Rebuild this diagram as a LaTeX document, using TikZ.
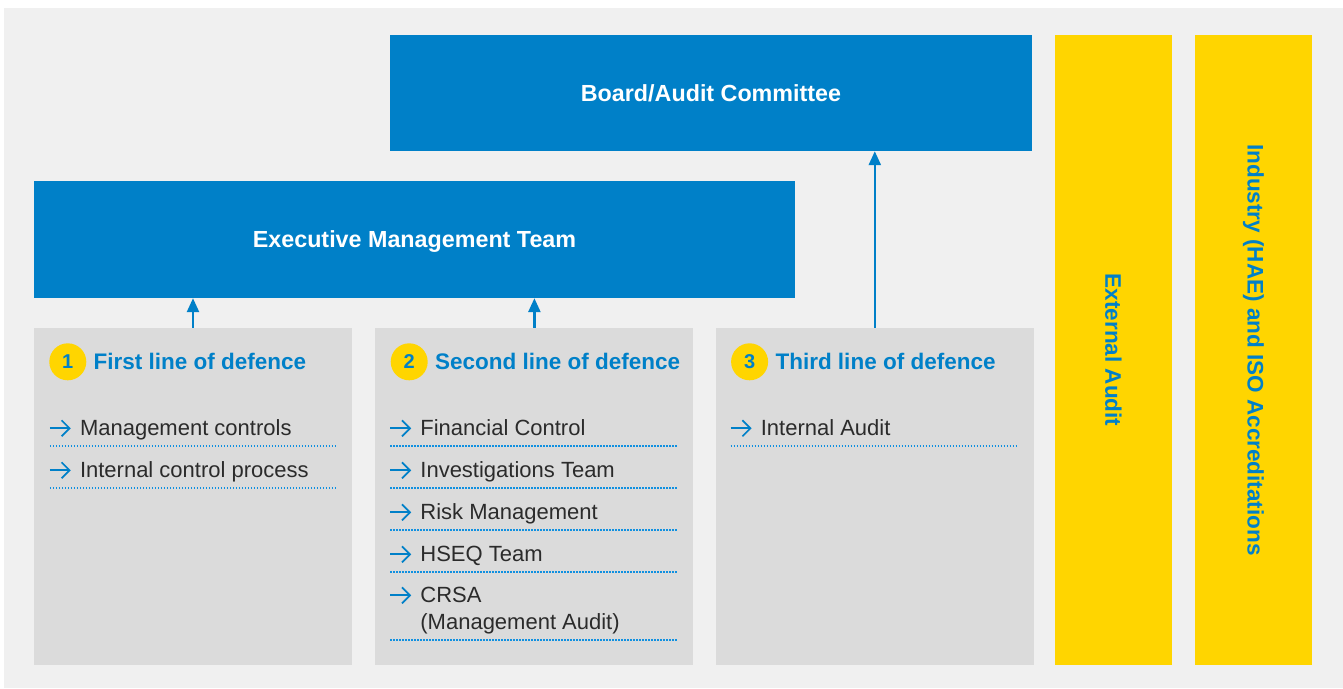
\documentclass[tikz,border=0pt]{standalone}
\usepackage{fontspec}
\setmainfont{Liberation Sans}
\usetikzlibrary{positioning,arrows.meta}
\definecolor{hblue}{HTML}{0080C8}
\definecolor{hyellow}{HTML}{FFD500}
\definecolor{hpanel}{HTML}{DBDBDB}
\definecolor{hback}{HTML}{F0F0F0}
\definecolor{htext}{HTML}{2B2B2B}
\definecolor{hdots}{HTML}{1090E0}
\newcommand{\headfont}{\fontsize{22.5}{27}\selectfont\bfseries}
\newcommand{\itemfont}{\fontsize{22}{26}\selectfont}
\newcommand{\tick}[1]{\draw[tickarrow] ([xshift=-30pt,yshift=7.5pt]#1.base west) -- ++(21pt,0);}
\newcommand{\dotline}[1]{\draw[sepline] ([xshift=-30pt,yshift=-10pt]#1.base west) -- ++(288pt,0);}
\tikzset{
  bluebox/.style={fill=hblue, text=white, inner sep=0pt, text height=16.7pt, text depth=0pt, font=\fontsize{23.3}{28}\selectfont\bfseries},
  panel/.style={fill=hpanel, minimum width=318pt, minimum height=337pt, inner sep=0pt},
  yellowbar/.style={fill=hyellow, text=hblue, font=\headfont, rotate=-90, minimum width=630pt, minimum height=117pt, inner sep=0pt},
  badge/.style={circle, fill=hyellow, minimum size=37pt, inner sep=0pt, text=hblue, font=\fontsize{20}{24}\selectfont\bfseries},
  title/.style={text=hblue, font=\headfont, inner sep=0pt, anchor=west},
  entry/.style={text=htext, font=\itemfont, inner sep=0pt, anchor=base west},
  uparrow/.style={draw=hblue, line width=2.5pt, -{Triangle[length=14pt,width=12pt]}},
  tickarrow/.style={draw=hblue, line width=1.7pt, -{Straight Barb[length=8pt,width=16pt]}},
  sepline/.style={draw=hdots, line width=1.5pt, dash pattern=on 1.5pt off 1.5pt}
}

\begin{document}
\begin{tikzpicture}[x=1pt,y=-1pt]
\useasboundingbox (0,0) rectangle (1343,688);
\fill[hback] (4,8) rectangle (1343,688);
\node[bluebox, minimum width=642pt, minimum height=116pt] (board) at (711,93) {Board/Audit Committee};
\node[bluebox, minimum width=761pt, minimum height=117pt] (exec) at (414.5,239.5) {Executive Management Team};
\node[panel] (p1) at (193,496.5) {};
\node[panel, right=23pt of p1] (p2) {};
\node[panel, right=22pt of p2] (p3) {};
\node[yellowbar] (extaudit) at (1113.5,350) {External Audit};
\node[yellowbar] (iso) at (1253.5,350) {Industry (HAE) and ISO Accreditations};
\draw[uparrow] (p1.north) -- (p1.north |- exec.south);
\draw[uparrow] (p2.north) -- (p2.north |- exec.south);
\draw[uparrow] (p3.north) -- (p3.north |- board.south);

\node[badge] (n1) at ([xshift=34pt,yshift=-34pt]p1.north west) {1};
\node[title, right=7pt of n1] (t1) {First line of defence};
\node[badge] (n2) at ([xshift=34pt,yshift=-34pt]p2.north west) {2};
\node[title, right=7pt of n2] (t2) {Second line of defence};
\node[badge] (n3) at ([xshift=34pt,yshift=-34pt]p3.north west) {3};
\node[title, right=7pt of n3] (t3) {Third line of defence};

\node[entry] (a1) at ([xshift=46pt,yshift=-108pt]p1.north west) {Management controls};
\node[entry] (a2) at ([yshift=-42pt]a1.base west) {Internal control process};
\tick{a1} \tick{a2}
\dotline{a1} \dotline{a2}

\node[entry] (b1) at ([xshift=45pt,yshift=-108pt]p2.north west) {Financial Control};
\node[entry] (b2) at ([yshift=-42pt]b1.base west) {Investigations Team};
\node[entry] (b3) at ([yshift=-42pt]b2.base west) {Risk Management};
\node[entry] (b4) at ([yshift=-42pt]b3.base west) {HSEQ Team};
\node[entry] (b5) at ([yshift=-41pt]b4.base west) {CRSA};
\node[entry] (b6) at ([yshift=-27pt]b5.base west) {(Management Audit)};
\tick{b1} \tick{b2} \tick{b3} \tick{b4} \tick{b5}
\dotline{b1} \dotline{b2} \dotline{b3} \dotline{b4} \dotline{b6}

\node[entry] (c1) at ([xshift=45pt,yshift=-108pt]p3.north west) {Internal Audit};
\tick{c1}
\dotline{c1}
\end{tikzpicture}
\end{document}
